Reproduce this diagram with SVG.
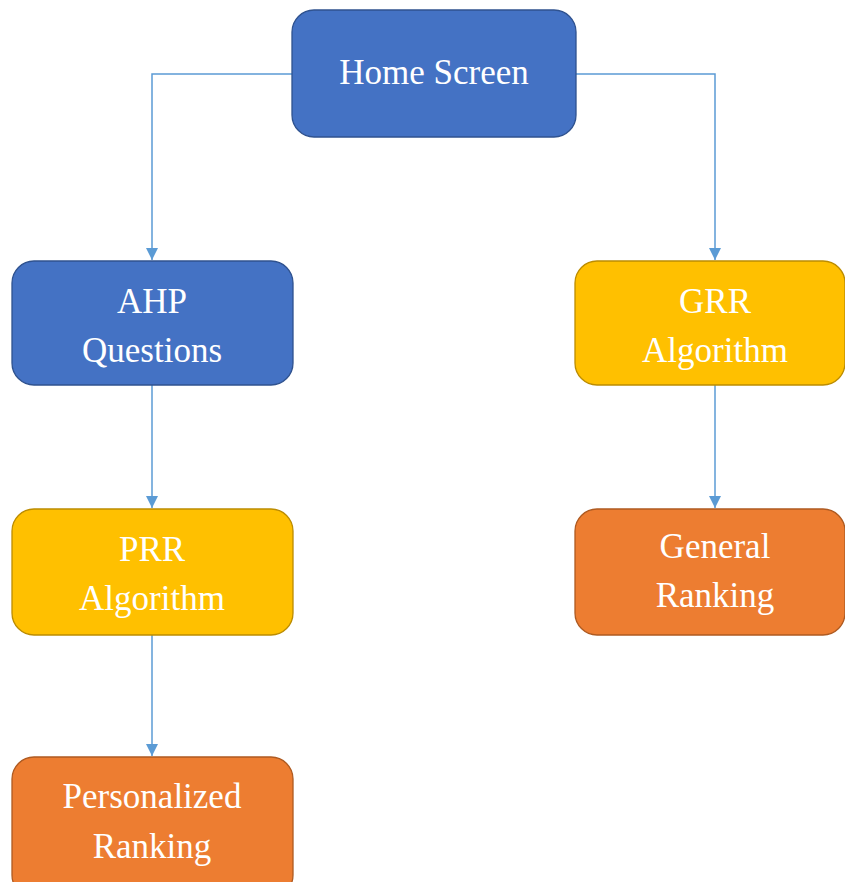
<svg xmlns="http://www.w3.org/2000/svg" width="845" height="882" viewBox="0 0 845 882">
<style>
.n rect{stroke-width:1.3}
.blue rect{fill:#4472C4;stroke:#2F528F}
.yel rect{fill:#FFC000;stroke:#BC8C00}
.org rect{fill:#ED7D31;stroke:#AE5A21}
.n text{font-family:"Liberation Serif","Times New Roman",serif;font-size:35px;fill:#FFFFFF;text-anchor:middle}
#connectors path{fill:none;stroke:#5B9BD5;stroke-width:1.5;marker-end:url(#ah)}
</style>
<defs>
<marker id="ah" viewBox="0 0 10 10" refX="10" refY="5" markerWidth="12" markerHeight="12" markerUnits="userSpaceOnUse" orient="auto">
<path d="M0,0 L10,5 L0,10 Z" fill="#5B9BD5"/>
</marker>
</defs>
<rect width="845" height="882" fill="#FFFFFF"/>
<g id="connectors">
<path d="M292,74 H152 V260"/>
<path d="M576,74 H715 V260"/>
<path d="M152,385 V508"/>
<path d="M715,385 V508"/>
<path d="M152,635 V756"/>
</g>
<g id="home" class="n blue">
<rect x="292" y="10" width="284" height="127" rx="22"/>
<text x="434" y="84">Home Screen</text>
</g>
<g id="ahp" class="n blue">
<rect x="12" y="261" width="281" height="124" rx="22"/>
<text x="152" y="313">AHP</text>
<text x="152" y="362">Questions</text>
</g>
<g id="grr" class="n yel">
<rect x="575" y="261" width="270" height="124" rx="22"/>
<text x="715" y="313">GRR</text>
<text x="715" y="362">Algorithm</text>
</g>
<g id="prr" class="n yel">
<rect x="12" y="509" width="281" height="126" rx="22"/>
<text x="152" y="561">PRR</text>
<text x="152" y="610">Algorithm</text>
</g>
<g id="general" class="n org">
<rect x="575" y="509" width="270" height="126" rx="22"/>
<text x="715" y="558">General</text>
<text x="715" y="607">Ranking</text>
</g>
<g id="personalized" class="n org">
<rect x="12" y="757" width="281" height="140" rx="22"/>
<text x="152" y="808">Personalized</text>
<text x="152" y="858">Ranking</text>
</g>
</svg>
